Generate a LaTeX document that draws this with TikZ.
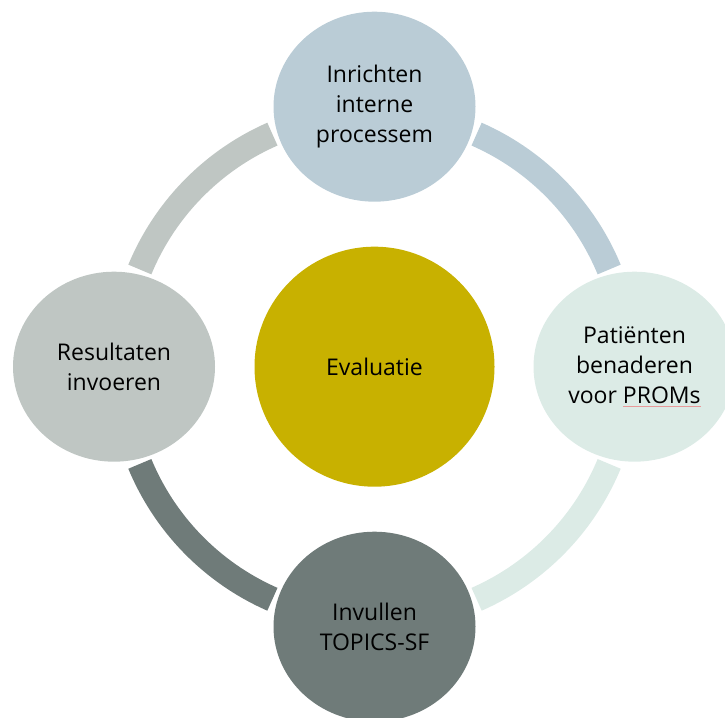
\documentclass[tikz,border=0pt]{standalone}
\usepackage{fontspec}
\setmainfont{Open Sans}
\usetikzlibrary{shapes.geometric}
\definecolor{topC}{HTML}{BACCD6}
\definecolor{rightC}{HTML}{DCEBE6}
\definecolor{bottomC}{HTML}{6F7B79}
\definecolor{leftC}{HTML}{BFC6C3}
\definecolor{centerC}{HTML}{C8B100}
\definecolor{spellC}{HTML}{E89A9A}
\newcommand\spellmark[1]{\setbox0\hbox{#1}\rlap{\color{spellC}\rule[-3pt]{\wd0}{0.9pt}}#1}
\begin{document}
\begin{tikzpicture}[x=1pt,y=1pt,
  stage/.style={ellipse, minimum width=202pt, minimum height=190pt, inner sep=0pt,
    align=center, font=\fontsize{23}{30}\selectfont, text=black},
  hub/.style={circle, minimum size=240pt, inner sep=0pt, align=center,
    font=\fontsize{23}{30}\selectfont, text=black},
  ringarc/.style={line width=25pt, line cap=butt}]
\useasboundingbox (0,0) rectangle (725,717);
\clip (0,0) rectangle (725,717);
\coordinate (ring) at (374.5,350.3);
% ring segments
\draw[ringarc, topC] (ring) ++(66.3:254) arc[start angle=66.3, end angle=22.5, radius=254];
\draw[ringarc, rightC] (ring) ++(-22.5:254) arc[start angle=-22.5, end angle=-66.3, radius=254];
\draw[ringarc, bottomC] (ring) ++(-113.7:254) arc[start angle=-113.7, end angle=-157.5, radius=254];
\draw[ringarc, leftC] (ring) ++(157.5:254) arc[start angle=157.5, end angle=113.7, radius=254];
% stages
\node[stage, fill=topC] (inrichten) at (374.5,610.3) {Inrichten\\interne\\processem};
\node[stage, fill=rightC] (patienten) at (634.5,350.3) {Patiënten\\benaderen\\voor \spellmark{PROMs}};
\node[stage, fill=bottomC] (invullen) at (374.5,90.3) {Invullen\\TOPICS-SF};
\node[stage, fill=leftC] (resultaten) at (114,350.3) {Resultaten\\invoeren};
\node[hub, fill=centerC] (evaluatie) at (374.5,350.3) {Evaluatie};
\end{tikzpicture}
\end{document}
